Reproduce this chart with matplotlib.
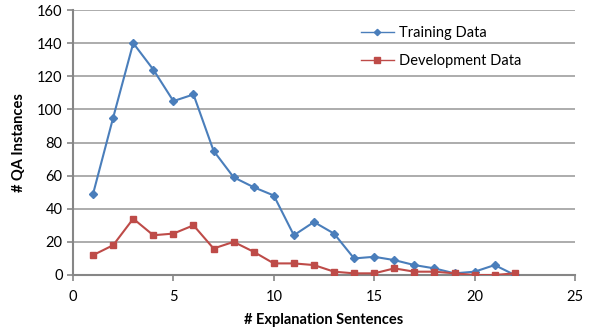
import matplotlib
matplotlib.use("Agg")
import matplotlib.pyplot as plt

x_train = list(range(1, 23))
train = [49, 95, 140, 124, 105, 109, 75, 59, 53, 48, 24, 32, 25, 10, 11, 9, 6, 4, 1, 2, 6, 0]
x_dev = list(range(1, 23))
dev = [12, 18, 34, 24, 25, 30, 16, 20, 14, 7, 7, 6, 2, 1, 1, 4, 2, 2, 1, 0, 0, 1]
xticks = [0, 5, 10, 15, 20, 25]
yticks = [0, 20, 40, 60, 80, 100, 120, 140, 160]

plt.rcParams['font.family'] = ['Lato', 'DejaVu Sans']

fig = plt.figure(figsize=(5.9, 3.33), dpi=100)
ax = fig.add_axes([73/590, 1-275/333, (575-73)/590, (275-10)/333])

blue = '#4A7EBB'
red = '#BE4B48'
ax.plot(x_train, train, color=blue, lw=1.5, marker='D', ms=4, label='Training Data', zorder=3)
ax.plot(x_dev, dev, color=red, lw=1.5, marker='s', ms=5, label='Development Data', zorder=3)

ax.set_xlim(0, 25)
ax.set_ylim(0, 160)
ax.set_xticks(xticks)
ax.set_yticks(yticks)
ax.yaxis.grid(True, color='#A6A6A6', lw=1.3)
ax.set_axisbelow(True)
for s in ['top', 'right']:
    ax.spines[s].set_visible(False)
for s in ['left', 'bottom']:
    ax.spines[s].set_color('#868686')
    ax.spines[s].set_linewidth(1.5)
ax.tick_params(axis='both', colors='#868686', labelcolor='black', labelsize=10.5, length=4, width=1.2)
ax.tick_params(axis='x', pad=7)
ax.set_xlabel('# Explanation Sentences', fontsize=10.5, fontweight='bold', labelpad=6)
ax.set_ylabel('# QA Instances', fontsize=10.5, fontweight='bold', labelpad=8)

leg = ax.legend(loc='upper left', bbox_to_anchor=(0.547, 0.99), frameon=False,
                fontsize=10.5, handlelength=2.3, labelspacing=1.0, handletextpad=0.3,
                markerscale=0.8)
for h in leg.legend_handles:
    h.set_linewidth(1.0)

fig.savefig('out.png', dpi=100)
